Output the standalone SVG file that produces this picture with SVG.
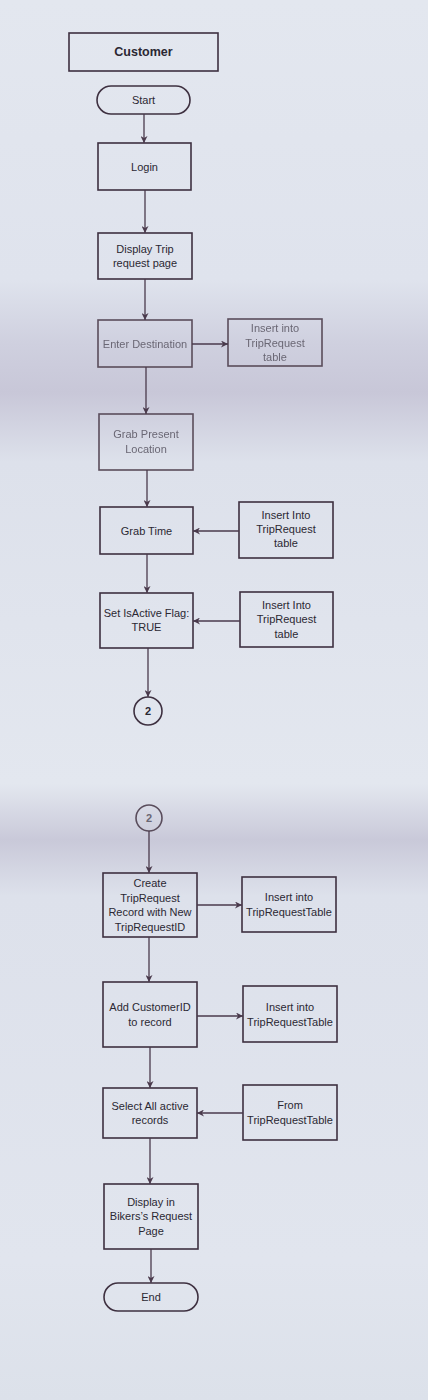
<svg xmlns="http://www.w3.org/2000/svg" width="428" height="1400" viewBox="0 0 428 1400">
<defs>
<linearGradient id="paper" x1="0" y1="0" x2="0" y2="1">
<stop offset="0" stop-color="#e3e7ef"/>
<stop offset="0.2" stop-color="#dfe3ed"/>
<stop offset="0.245" stop-color="#cfd0df"/>
<stop offset="0.28" stop-color="#c8c7d8"/>
<stop offset="0.33" stop-color="#dde1eb"/>
<stop offset="0.56" stop-color="#e3e7ef"/>
<stop offset="0.58" stop-color="#d6d8e4"/>
<stop offset="0.6" stop-color="#c9c9d9"/>
<stop offset="0.64" stop-color="#dde1eb"/>
<stop offset="0.9" stop-color="#e1e5ee"/>
<stop offset="1" stop-color="#dce1ea"/>
</linearGradient>
<marker id="ah" viewBox="0 0 10 10" refX="10" refY="5" markerWidth="7" markerHeight="7" markerUnits="userSpaceOnUse" orient="auto">
<path d="M0,0 L10,5 L0,10 L3,5 z" fill="#4a3a4c"/>
</marker>
<filter id="soft" x="-10%" y="-10%" width="120%" height="120%"><feGaussianBlur stdDeviation="0.7"/></filter>
</defs>
<style>
.box{fill:none;stroke:#3e3040;stroke-width:1.6}
.t{font-family:"Liberation Sans",Arial,sans-serif;font-size:11px;fill:#2b2833;text-anchor:middle;dominant-baseline:central}
.b{font-weight:bold;font-size:12.5px}
.faint{fill:#6a6774}
.c{fill:none;stroke:#4a3a4c;stroke-width:1.3;marker-end:url(#ah)}
</style>
<rect x="0" y="0" width="428" height="1400" fill="url(#paper)"/>

<g id="customer"><rect class="box" x="69" y="33" width="149" height="38"/><text class="t b" x="143.5" y="52">Customer</text></g>
<g id="start"><rect class="box" x="97" y="86" width="93" height="28" rx="14"/><text class="t" x="143.5" y="100">Start</text></g>
<g id="login"><rect class="box" x="98" y="143" width="93" height="47"/><text class="t" x="144.5" y="167">Login</text></g>
<g id="display-trip"><rect class="box" x="98" y="233" width="94" height="46"/><text class="t" x="145" y="249">Display Trip</text><text class="t" x="145" y="263">request page</text></g>
<g id="enter-destination" filter="url(#soft)"><rect class="box" x="98" y="320" width="94" height="47" style="stroke:#5a4d5c"/><text class="t faint" x="145" y="344">Enter Destination</text></g>
<g id="insert-1" filter="url(#soft)"><rect class="box" x="228" y="319" width="94" height="47" style="stroke:#5a4d5c"/><text class="t faint" x="275" y="328">Insert into</text><text class="t faint" x="275" y="343">TripRequest</text><text class="t faint" x="275" y="357">table</text></g>
<g id="grab-location" filter="url(#soft)"><rect class="box" x="99" y="414" width="94" height="56" style="stroke:#5a4d5c"/><text class="t faint" x="146" y="434">Grab Present</text><text class="t faint" x="146" y="449">Location</text></g>
<g id="grab-time"><rect class="box" x="100" y="507" width="93" height="47"/><text class="t" x="146.5" y="531">Grab Time</text></g>
<g id="insert-2"><rect class="box" x="239" y="502" width="94" height="56"/><text class="t" x="286" y="515">Insert Into</text><text class="t" x="286" y="529">TripRequest</text><text class="t" x="286" y="543">table</text></g>
<g id="set-active"><rect class="box" x="100" y="593" width="93" height="55"/><text class="t" x="146.5" y="613">Set IsActive Flag:</text><text class="t" x="146.5" y="627">TRUE</text></g>
<g id="insert-3"><rect class="box" x="240" y="592" width="93" height="55"/><text class="t" x="286.5" y="605">Insert Into</text><text class="t" x="286.5" y="619">TripRequest</text><text class="t" x="286.5" y="634">table</text></g>
<g id="connector-out"><circle class="box" cx="148" cy="711" r="14"/><text class="t b" x="148" y="711" style="font-size:11px">2</text></g>

<g id="connector-in"><circle class="box" cx="149" cy="818" r="13" style="stroke:#5a4d5c"/><text class="t b faint" x="149" y="818" style="font-size:11px">2</text></g>
<g id="create-record"><rect class="box" x="103" y="873" width="94" height="64"/><text class="t" x="150" y="883">Create</text><text class="t" x="150" y="898">TripRequest</text><text class="t" x="150" y="912">Record with New</text><text class="t" x="150" y="927">TripRequestID</text></g>
<g id="insert-4"><rect class="box" x="242" y="877" width="94" height="55"/><text class="t" x="289" y="897">Insert into</text><text class="t" x="289" y="912">TripRequestTable</text></g>
<g id="add-customer"><rect class="box" x="103" y="982" width="94" height="65"/><text class="t" x="150" y="1007">Add CustomerID</text><text class="t" x="150" y="1022">to record</text></g>
<g id="insert-5"><rect class="box" x="243" y="986" width="94" height="56"/><text class="t" x="290" y="1007">Insert into</text><text class="t" x="290" y="1022">TripRequestTable</text></g>
<g id="select-active"><rect class="box" x="103" y="1088" width="94" height="50"/><text class="t" x="150" y="1106">Select All active</text><text class="t" x="150" y="1120">records</text></g>
<g id="from-table"><rect class="box" x="243" y="1085" width="94" height="55"/><text class="t" x="290" y="1105">From</text><text class="t" x="290" y="1120">TripRequestTable</text></g>
<g id="display-bikers"><rect class="box" x="104" y="1184" width="94" height="65"/><text class="t" x="151" y="1202">Display in</text><text class="t" x="151" y="1216">Bikers’s Request</text><text class="t" x="151" y="1231">Page</text></g>
<g id="end"><rect class="box" x="104" y="1283" width="94" height="28" rx="14"/><text class="t" x="151" y="1297">End</text></g>

<g id="connectors">
<line class="c" x1="144" y1="114" x2="144" y2="143"/>
<line class="c" x1="145" y1="190" x2="145" y2="233"/>
<line class="c" x1="145" y1="279" x2="145" y2="320"/>
<line class="c" x1="192" y1="344" x2="228" y2="344"/>
<line class="c" x1="146" y1="367" x2="146" y2="414"/>
<line class="c" x1="147" y1="470" x2="147" y2="507"/>
<line class="c" x1="239" y1="531" x2="193" y2="531"/>
<line class="c" x1="147" y1="554" x2="147" y2="593"/>
<line class="c" x1="240" y1="621" x2="193" y2="621"/>
<line class="c" x1="148" y1="648" x2="148" y2="697"/>
<line class="c" x1="149" y1="831" x2="149" y2="873"/>
<line class="c" x1="197" y1="905" x2="242" y2="905"/>
<line class="c" x1="149" y1="937" x2="149" y2="982"/>
<line class="c" x1="197" y1="1016" x2="243" y2="1016"/>
<line class="c" x1="150" y1="1047" x2="150" y2="1088"/>
<line class="c" x1="243" y1="1113" x2="197" y2="1113"/>
<line class="c" x1="150" y1="1138" x2="150" y2="1184"/>
<line class="c" x1="151" y1="1249" x2="151" y2="1283"/>
</g>
</svg>
